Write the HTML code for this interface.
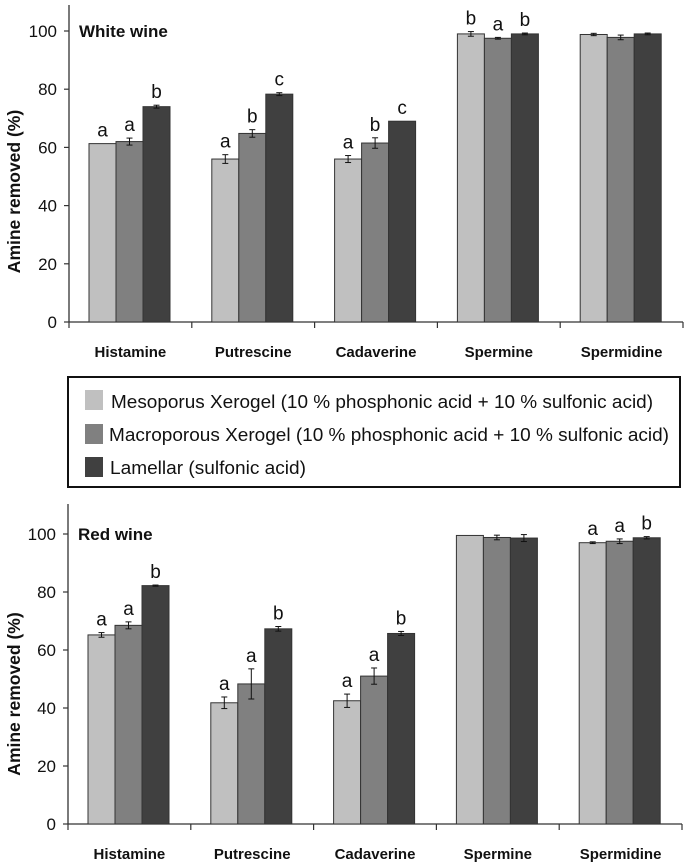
<!DOCTYPE html>
<html><head><meta charset="utf-8"><style>
body{margin:0;background:#fff;width:685px;height:865px;overflow:hidden}
svg{display:block}
text{font-family:"Liberation Sans",sans-serif;fill:#111}
</style></head><body>
<svg width="685" height="865">
<g id="charts"></g>
<g>
<rect x="68" y="377" width="612" height="110" fill="#fff" stroke="#111" stroke-width="2"/>
<rect x="85" y="390" width="18" height="20" fill="#c0c0c0"/>
<text x="111" y="408" font-size="18.5" textLength="542" lengthAdjust="spacingAndGlyphs">Mesoporus Xerogel (10 % phosphonic acid + 10 % sulfonic acid)</text>
<rect x="85" y="424" width="18" height="20" fill="#808080"/>
<text x="109" y="441" font-size="18.5" textLength="560" lengthAdjust="spacingAndGlyphs">Macroporous Xerogel (10 % phosphonic acid + 10 % sulfonic acid)</text>
<rect x="85" y="457" width="18" height="20" fill="#404040"/>
<text x="110" y="474" font-size="18.5" textLength="196" lengthAdjust="spacingAndGlyphs">Lamellar (sulfonic acid)</text>
</g>
</svg>
<script>
const categories=["Histamine","Putrescine","Cadaverine","Spermine","Spermidine"];
const seriesNames=["mesoporous","macroporous","lamellar"];
const yTicks=[0,20,40,60,80,100];
const whiteMeso=[61.3,56,56,99,98.8];
const whiteMacro=[62,64.8,61.5,97.5,97.8];
const whiteLam=[74,78.3,69,99,99];
const whiteMesoErr=[0,1.5,1.2,0.8,0.4];
const whiteMacroErr=[1.2,1.3,1.8,0.3,0.8];
const whiteLamErr=[0.5,0.5,0,0.3,0.3];
const whiteLetters=[["a","a","b"],["a","b","c"],["a","b","c"],["b","a","b"],["","",""]];
const redMeso=[65.2,41.8,42.5,99.5,97];
const redMacro=[68.5,48.3,51,98.8,97.5];
const redLam=[82.2,67.3,65.7,98.6,98.7];
const redMesoErr=[0.8,2,2.3,0,0.3];
const redMacroErr=[1.2,5.2,2.8,0.8,0.8];
const redLamErr=[0.2,0.8,0.7,1.2,0.4];
const redLetters=[["a","a","b"],["a","a","b"],["a","a","b"],["","",""],["a","a","b"]];
const colors=["#c0c0c0","#808080","#404040"];
const NS="http://www.w3.org/2000/svg";
const root=document.getElementById("charts");
function mk(tag,attrs,parent){const e=document.createElementNS(NS,tag);for(const k in attrs)e.setAttribute(k,attrs[k]);parent.appendChild(e);return e;}
function drawChart(cfg){
  const g=mk("g",{},root);
  
  
  const x0=cfg.x0,y0=cfg.y0,y100=cfg.y100,catW=122.8,barW=27,barOff=20;
  const yS=v=>y0-(y0-y100)*v/100;
  const xCat=i=>x0+i*catW;
  const ya=mk("line",{x1:x0,y1:cfg.top,x2:x0,y2:y0,stroke:"#333","stroke-width":1.3},g);
  
  
  const xa=mk("line",{x1:x0,y1:y0,x2:x0+5*catW,y2:y0,stroke:"#333","stroke-width":1.3},g);
  
  
  yTicks.forEach(t=>{
    mk("line",{x1:x0-5,y1:yS(t),x2:x0,y2:yS(t),stroke:"#333","stroke-width":1.2},g);
    const tl=mk("text",{x:x0-12,y:yS(t)+6,"font-size":17,"text-anchor":"end"},g);
    tl.textContent=t;
    
    
  });
  for(let i=0;i<=5;i++) mk("line",{x1:xCat(i),y1:y0,x2:xCat(i),y2:y0+6,stroke:"#333","stroke-width":1.2},g);
  const yt=mk("text",{x:0,y:0,"font-size":17.5,"font-weight":"bold","text-anchor":"middle",transform:`translate(20,${(y0+y100)/2+15}) rotate(-90)`},g);
  yt.textContent="Amine removed (%)";
  
  
  const ti=mk("text",{x:x0+10,y:y100+6,"font-size":17,"font-weight":"bold"},g);
  ti.textContent=cfg.title;
  
  
  categories.forEach((c,i)=>{
    const cl=mk("text",{x:xCat(i)+catW/2,y:cfg.labelY,"font-size":15,"font-weight":"bold","text-anchor":"middle"},g);
    cl.textContent=c;
    
    
    for(let s=0;s<3;s++){
      const v=cfg.vals[s][i],e=cfg.errs[s][i];
      const bx=xCat(i)+barOff+s*barW;
      const r=mk("rect",{x:bx,y:yS(v),width:barW,height:y0-yS(v),fill:colors[s],stroke:"#333","stroke-width":1},g);
      
      
      const cx=bx+barW/2;
      if(e>0){
        mk("line",{x1:cx,y1:yS(v+e),x2:cx,y2:yS(v-e),stroke:"#111","stroke-width":1},g);
        mk("line",{x1:cx-3,y1:yS(v+e),x2:cx+3,y2:yS(v+e),stroke:"#111","stroke-width":1},g);
        mk("line",{x1:cx-3,y1:yS(v-e),x2:cx+3,y2:yS(v-e),stroke:"#111","stroke-width":1},g);
      }
      const L=cfg.letters[i][s];
      if(L){
        const lt=mk("text",{x:cx,y:yS(v+e)-7,"font-size":19,"text-anchor":"middle"},g);
        lt.textContent=L;
        
        
      }
    }
  });
}
drawChart({name:"white-wine-chart",title:"White wine",x0:69,y0:322,y100:31,top:5,labelY:357,
  vals:[whiteMeso,whiteMacro,whiteLam],errs:[whiteMesoErr,whiteMacroErr,whiteLamErr],letters:whiteLetters});
drawChart({name:"red-wine-chart",title:"Red wine",x0:68,y0:824,y100:534,top:504,labelY:859,
  vals:[redMeso,redMacro,redLam],errs:[redMesoErr,redMacroErr,redLamErr],letters:redLetters});
</script>
</body></html>
